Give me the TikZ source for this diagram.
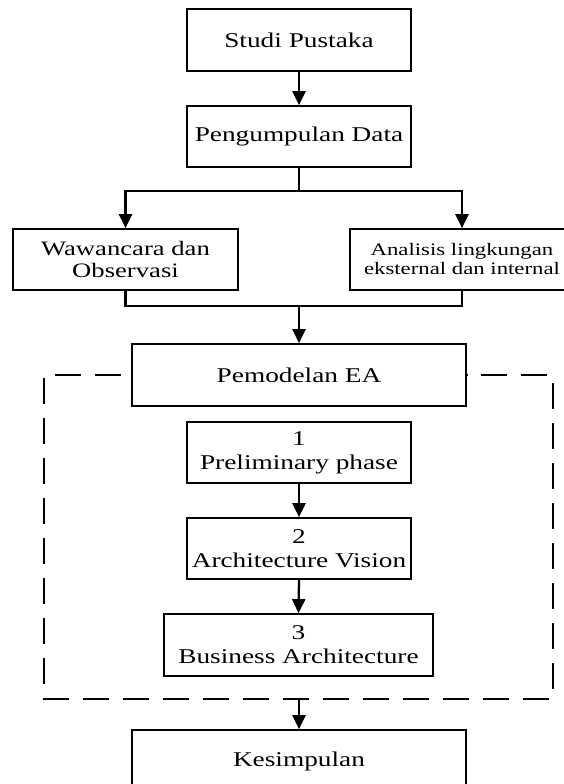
\documentclass[tikz,border=0pt]{standalone}
\usepackage{fontspec}
\setmainfont{Liberation Serif}[FakeStretch=1.3]
\usetikzlibrary{arrows.meta}

\begin{document}
\begin{tikzpicture}[x=1pt,y=-1pt,
  box/.style={draw, line width=1.7pt, inner sep=0pt, align=center,
    minimum height=61pt, font=\fontsize{21}{24}\selectfont},
  arr/.style={line width=2.3pt, -{Triangle[length=14pt,width=13pt]}},
  link/.style={line width=2.3pt},
  frame/.style={line width=1.8pt, dash pattern=on 26pt off 14pt, dash phase=30pt}]

\clip (0,0) rectangle (564,784);
\fill[white] (0,0) rectangle (564,784);

% main process boxes
\node[box, minimum width=224pt, minimum height=62pt] (studi) at (299,40) {Studi Pustaka};
\node[box, minimum width=224pt] (data) at (299,136.5) {Pengumpulan Data};
\node[box, minimum width=225pt, font=\fontsize{20.5}{22}\selectfont] (waw) at (125.5,259.5) {Wawancara dan\\Observasi};
\node[box, minimum width=224pt, font=\fontsize{17.5}{19}\selectfont] (anal) at (462,259.5) {Analisis lingkungan\\eksternal dan internal};
\node[box, minimum width=334pt, minimum height=62pt] (pem) at (299,375) {Pemodelan EA};

% TOGAF phases inside the modelling frame
\node[box, minimum width=224pt] (p1) at (299,452.5) {1\\Preliminary phase};
\node[box, minimum width=224pt] (p2) at (299,548.5) {2\\Architecture Vision};
\node[box, minimum width=269pt, minimum height=62pt] (p3) at (298.5,645) {3\\Business Architecture};

\node[box, minimum width=334pt, minimum height=62pt] (kes) at (299,761) {Kesimpulan};

% branching and merging points
\coordinate (split) at (299,191);
\coordinate (merge) at (299,306);
\coordinate (fb) at (299,699);

% connectors
\draw[arr] (studi.south) -- (data.north);
\draw[link] (data.south) -- (split);
\draw[arr] (split) -| (waw.north);
\draw[arr] (split) -| (anal.north);
\draw[link] (waw.south) |- (merge);
\draw[link] (anal.south) |- (merge);
\draw[arr] (merge) -- (pem.north);
\draw[arr] (p1.south) -- (p2.north);
\draw[arr] (p2.south) -- (p3.north);
\draw[arr] (fb) -- (kes.north);

% dashed frame around the modelling phases
\draw[frame] (pem.west) -- (44,375) -- (44,699) -- (fb) -- (553,699) -- (553,375) -- (pem.east);
\end{tikzpicture}
\end{document}
